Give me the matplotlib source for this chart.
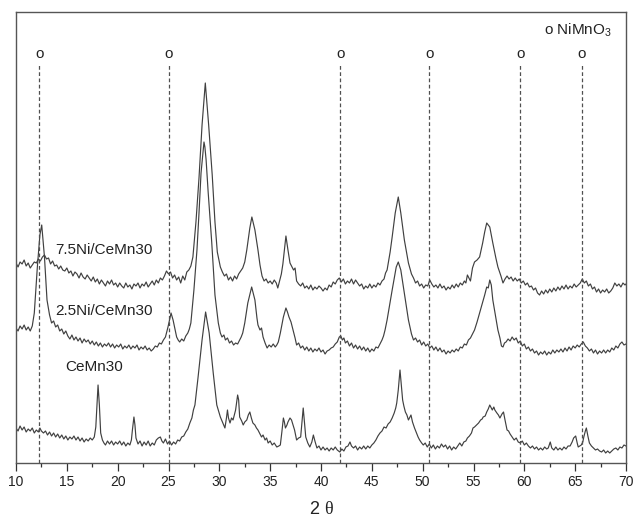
import matplotlib
matplotlib.use("Agg")
import matplotlib.pyplot as plt
import numpy as np

plt.rcParams['font.family'] = ['Liberation Sans', 'DejaVu Sans']
plt.rcParams['mathtext.fontset'] = 'custom'
plt.rcParams['mathtext.rm'] = 'Liberation Sans'
plt.rcParams['mathtext.it'] = 'Liberation Serif'

# readings: 2theta and signal level (frame units, top of frame = 463)
tt_75 = [10.0, 10.2, 10.4, 10.6, 10.8, 11.0, 11.2, 11.4, 11.6, 11.8, 12.0, 12.2, 12.4, 12.6, 12.8,
         13.0, 13.2, 13.4, 13.6, 13.8, 14.0, 14.2, 14.4, 14.6, 14.8, 15.0, 15.2, 15.4, 15.6, 15.8,
         16.0, 16.2, 16.4, 16.6, 16.8, 17.0, 17.2, 17.4, 17.6, 17.8, 18.0, 18.2, 18.4, 18.6, 18.8,
         19.0, 19.2, 19.4, 19.6, 19.8, 20.0, 20.2, 20.4, 20.6, 20.8, 21.0, 21.2, 21.4, 21.6, 21.8,
         22.0, 22.2, 22.4, 22.6, 22.8, 23.0, 23.2, 23.4, 23.6, 23.8, 24.0, 24.2, 24.4, 24.6, 24.8,
         25.0, 25.2, 25.4, 25.6, 25.8, 26.0, 26.2, 26.4, 26.6, 26.8, 27.0, 27.2, 27.4,
         27.7, 28.0, 28.3, 28.62, 28.95, 29.3, 29.57, 29.8, 30.1,
         30.3, 30.5, 30.7, 30.9, 31.1, 31.3, 31.5, 31.7, 31.9, 32.1, 32.3, 32.5, 32.7, 33.0, 33.2,
         33.5, 33.8, 34.0, 34.2, 34.4, 34.6, 34.8, 35.0, 35.2, 35.4, 35.6, 35.75, 35.9, 36.1, 36.25,
         36.4, 36.55, 36.75, 36.95, 37.1, 37.3, 37.45, 37.6, 37.8, 38.0, 38.2, 38.4, 38.6, 38.8, 39.0,
         39.2, 39.4, 39.6, 39.8, 40.0, 40.2, 40.4, 40.6, 40.8, 41.0, 41.2, 41.4, 41.6, 41.8, 42.0,
         42.2, 42.4, 42.6, 42.8, 43.0, 43.2, 43.4, 43.6, 43.8, 44.0, 44.2, 44.4, 44.6, 44.8, 45.0,
         45.2, 45.4, 45.6, 45.8, 46.0, 46.2, 46.35, 46.5, 46.8, 47.0, 47.3, 47.6, 47.85, 48.2, 48.6,
         48.9, 49.1, 49.3, 49.5, 49.7, 49.9, 50.1, 50.3, 50.5, 50.7, 50.9, 51.1, 51.3, 51.5, 51.7,
         51.9, 52.1, 52.3, 52.5, 52.7, 52.9, 53.1, 53.3, 53.5, 53.7, 53.9, 54.1, 54.25, 54.4, 54.55,
         54.7, 54.9, 55.1, 55.35, 55.6, 55.9, 56.1, 56.3, 56.45, 56.6, 56.9, 57.2, 57.4, 57.7, 57.9,
         58.1, 58.3, 58.5, 58.7, 58.9, 59.1, 59.3, 59.5, 59.7, 59.9, 60.1, 60.3, 60.5, 60.7, 60.9,
         61.1, 61.3, 61.5, 61.7, 61.9, 62.1, 62.3, 62.5, 62.7, 62.9, 63.1, 63.3, 63.5, 63.7, 63.9,
         64.1, 64.3, 64.5, 64.7, 64.9, 65.1, 65.3, 65.5, 65.7, 65.9, 66.1, 66.3, 66.5, 66.7, 66.9,
         67.1, 67.3, 67.5, 67.7, 67.9, 68.1, 68.3, 68.5, 68.7, 68.9, 69.1, 69.3, 69.5, 69.7, 69.9,
         70.0]
y_75 = [263, 267, 262, 264, 260, 266, 263, 268, 265, 262, 263, 259, 261, 257, 255,
        259, 258, 264, 261, 266, 265, 269, 266, 270, 271, 268, 273, 271, 276, 272,
        274, 278, 273, 277, 279, 275, 278, 281, 277, 282, 279, 284, 280, 283, 286,
        281, 284, 280, 285, 283, 287, 283, 286, 288, 283, 287, 285, 289, 284, 286,
        283, 288, 284, 286, 282, 287, 284, 281, 285, 280, 283, 278, 280, 276, 271,
        274, 272, 278, 275, 280, 277, 283, 276, 280, 272, 270, 266, 257,
        222, 178, 125, 83, 125, 175, 222, 252, 267,
        272, 276, 274, 280, 277, 281, 276, 279, 274, 271, 268, 262, 250, 228, 217,
        230, 250, 265, 276, 281, 279, 283, 281, 284, 280, 283, 288, 282, 274, 264,
        250, 236, 250, 263, 266, 270, 268, 281, 284, 286, 283, 288, 286, 289, 285,
        290, 287, 289, 286, 288, 291, 288, 290, 285, 287, 282, 284, 280, 278, 282,
        279, 284, 281, 283, 279, 284, 280, 283, 286, 284, 289, 286, 288, 284, 288,
        285, 287, 283, 285, 281, 279, 273, 270, 252, 237, 213, 197, 213, 240, 263,
        274, 278, 283, 281, 286, 284, 288, 285, 286, 280, 284, 287, 285, 288, 284,
        288, 286, 290, 287, 289, 285, 288, 284, 287, 283, 285, 281, 283, 275, 278,
        281, 268, 262, 260, 257, 243, 232, 223, 225, 227, 243, 258, 267, 276, 283,
        279, 276, 279, 277, 281, 278, 281, 279, 283, 281, 285, 283, 287, 286, 290,
        288, 293, 295, 291, 294, 290, 293, 289, 292, 288, 291, 287, 290, 286, 289,
        285, 289, 286, 288, 284, 287, 285, 283, 279, 283, 281, 286, 284, 289, 287,
        292, 289, 293, 290, 292, 289, 293, 291, 288, 283, 286, 284, 287, 283, 285,
        284]

tt_25 = [10.0, 10.2, 10.4, 10.6, 10.8, 11.0, 11.2, 11.4, 11.6, 11.8, 12.1, 12.35, 12.53, 12.8, 13.05,
         13.3, 13.5, 13.7, 13.9, 14.1, 14.3, 14.5, 14.7, 14.9, 15.1, 15.3, 15.5, 15.7, 15.9, 16.1,
         16.3, 16.5, 16.7, 16.9, 17.1, 17.3, 17.5, 17.7, 17.9, 18.1, 18.3, 18.5, 18.7, 18.9, 19.1,
         19.3, 19.5, 19.7, 19.9, 20.1, 20.3, 20.5, 20.7, 20.9, 21.1, 21.3, 21.5, 21.7, 21.9, 22.1,
         22.3, 22.5, 22.7, 22.9, 23.1, 23.3, 23.5, 23.7, 23.9, 24.1, 24.3, 24.5, 24.7, 24.95, 25.25,
         25.45, 25.65, 25.8, 25.95, 26.1, 26.3, 26.5, 26.7, 26.9, 27.05, 27.2, 27.5, 27.8, 28.0, 28.2,
         28.49, 28.58, 28.7, 28.9, 29.25, 29.57, 29.9, 30.1, 30.26, 30.45, 30.6, 30.8, 31.0, 31.2, 31.4,
         31.6, 31.8, 32.0, 32.15, 32.3, 32.5, 32.8, 33.18, 33.5, 33.7, 33.8, 34.0, 34.15, 34.3, 34.5,
         34.7, 34.9, 35.1, 35.3, 35.5, 35.65, 35.8, 36.0, 36.3, 36.55, 36.7, 36.85, 37.05, 37.25, 37.45,
         37.6, 37.8, 38.0, 38.2, 38.4, 38.6, 38.8, 39.0, 39.2, 39.4, 39.6, 39.8, 40.0, 40.2, 40.4,
         40.6, 40.8, 41.0, 41.2, 41.4, 41.6, 41.8, 41.95, 42.1, 42.25, 42.4, 42.6, 42.8, 43.0, 43.2,
         43.4, 43.6, 43.8, 44.0, 44.2, 44.4, 44.6, 44.8, 45.0, 45.2, 45.4, 45.6, 45.8, 46.0, 46.15,
         46.3, 46.5, 46.8, 47.0, 47.4, 47.6, 47.85, 48.2, 48.6, 48.9, 49.1, 49.3, 49.5, 49.7, 49.9,
         50.1, 50.3, 50.5, 50.7, 50.9, 51.1, 51.3, 51.5, 51.7, 51.9, 52.1, 52.3, 52.5, 52.7, 52.9,
         53.1, 53.3, 53.5, 53.7, 53.9, 54.1, 54.3, 54.5, 54.7, 54.9, 55.1, 55.35, 55.6, 55.9, 56.1,
         56.3, 56.45, 56.6, 56.75, 56.9, 57.2, 57.4, 57.6, 57.75, 57.9, 58.05, 58.2, 58.4, 58.6, 58.8,
         59.0, 59.2, 59.4, 59.6, 59.8, 60.0, 60.2, 60.4, 60.6, 60.8, 61.0, 61.2, 61.4, 61.6, 61.8,
         62.0, 62.2, 62.4, 62.6, 62.8, 63.0, 63.2, 63.4, 63.6, 63.8, 64.0, 64.2, 64.4, 64.6, 64.8,
         65.0, 65.2, 65.4, 65.6, 65.8, 66.0, 66.2, 66.4, 66.6, 66.8, 67.0, 67.2, 67.4, 67.6, 67.8,
         68.0, 68.2, 68.4, 68.6, 68.8, 69.0, 69.2, 69.4, 69.6, 69.8, 70.0]
y_25 = [328, 331, 326, 329, 325, 330, 327, 331, 326, 313, 267, 235, 225, 257, 300,
        315, 323, 321, 327, 325, 331, 329, 334, 331, 336, 339, 335, 340, 337, 341,
        338, 343, 339, 342, 340, 344, 341, 345, 342, 346, 343, 347, 344, 346, 343,
        347, 344, 348, 345, 347, 344, 349, 346, 348, 345, 349, 346, 348, 345, 350,
        347, 349, 346, 350, 348, 351, 349, 346, 347, 343, 344, 340, 337, 327, 313,
        320, 330, 337, 340, 342, 339, 341, 336, 333, 329, 323, 290, 250, 213, 173,
        142, 147, 160, 192, 242, 295, 323, 333, 337, 335, 340, 338, 343, 341, 345,
        343, 344, 340, 337, 333, 323, 303, 287, 300, 318, 325, 330, 328, 337, 343,
        348, 345, 347, 344, 347, 345, 342, 333, 317, 308, 312, 317, 322, 330, 338,
        345, 343, 348, 346, 350, 347, 351, 348, 352, 349, 351, 348, 352, 350, 354,
        351, 350, 348, 347, 344, 342, 337, 336, 340, 338, 343, 341, 346, 343, 348,
        345, 349, 346, 350, 347, 351, 348, 352, 349, 351, 347, 348, 344, 340, 336,
        330, 320, 302, 290, 267, 262, 270, 293, 320, 334, 340, 338, 342, 340, 345,
        342, 346, 344, 348, 346, 350, 347, 351, 348, 352, 350, 354, 351, 353, 350,
        352, 349, 351, 347, 348, 344, 345, 340, 338, 334, 330, 322, 313, 302, 295,
        287, 288, 280, 285, 300, 318, 330, 338, 346, 347, 343, 342, 339, 341, 337,
        340, 338, 343, 341, 346, 344, 349, 347, 351, 349, 353, 351, 355, 352, 354,
        351, 355, 352, 354, 350, 353, 350, 352, 349, 352, 348, 351, 347, 350, 346,
        348, 345, 347, 344, 342, 346, 348, 351, 349, 353, 350, 354, 351, 353, 350,
        353, 350, 352, 348, 350, 346, 348, 344, 342, 345, 344]

tt_ce = [10.0, 10.2, 10.4, 10.6, 10.8, 11.0, 11.2, 11.4, 11.6, 11.8, 12.0, 12.2, 12.35, 12.5, 12.7,
         12.9, 13.1, 13.3, 13.5, 13.7, 13.9, 14.1, 14.3, 14.5, 14.7, 14.9, 15.1, 15.3, 15.5, 15.7,
         15.9, 16.1, 16.3, 16.5, 16.7, 16.9, 17.1, 17.3, 17.5, 17.7, 17.85, 18.07, 18.2, 18.33, 18.5,
         18.65, 18.8, 19.0, 19.2, 19.4, 19.6, 19.8, 20.0, 20.2, 20.4, 20.6, 20.8, 21.0, 21.2, 21.35,
         21.45, 21.6, 21.7, 21.8, 22.0, 22.2, 22.4, 22.6, 22.8, 23.0, 23.2, 23.4, 23.6, 23.8, 24.0,
         24.2, 24.35, 24.5, 24.7, 24.9, 25.1, 25.3, 25.5, 25.7, 25.9, 26.1, 26.3, 26.5, 26.7, 26.9,
         27.1, 27.3, 27.45, 27.6, 27.9, 28.3, 28.65, 29.0, 29.4, 29.75, 29.95, 30.1, 30.3, 30.55, 30.7,
         30.8, 30.9, 31.05, 31.2, 31.35, 31.6, 31.8, 31.9, 32.0, 32.2, 32.35, 32.5, 32.7, 32.85, 33.0,
         33.15, 33.3, 33.5, 33.65, 33.8, 34.0, 34.15, 34.3, 34.5, 34.65, 34.8, 35.0, 35.2, 35.4, 35.65,
         35.85, 36.0, 36.15, 36.3, 36.4, 36.5, 36.65, 36.75, 36.95, 37.1, 37.25, 37.4, 37.6, 37.8, 38.0,
         38.15, 38.25, 38.35, 38.5, 38.7, 38.9, 39.1, 39.25, 39.4, 39.6, 39.8, 40.0, 40.2, 40.4, 40.6,
         40.8, 41.0, 41.2, 41.4, 41.6, 41.85, 42.05, 42.25, 42.45, 42.65, 42.85, 43.0, 43.2, 43.4, 43.6,
         43.8, 44.0, 44.2, 44.4, 44.6, 44.8, 45.0, 45.2, 45.4, 45.6, 45.8, 46.0, 46.2, 46.4, 46.6,
         46.8, 47.0, 47.2, 47.35, 47.45, 47.6, 47.77, 47.9, 48.03, 48.15, 48.3, 48.45, 48.6, 48.75, 48.85,
         49.0, 49.2, 49.4, 49.55, 49.7, 49.9, 50.06, 50.25, 50.45, 50.65, 50.85, 51.05, 51.25, 51.45, 51.65,
         51.85, 52.05, 52.25, 52.45, 52.65, 52.85, 53.05, 53.25, 53.45, 53.65, 53.85, 54.05, 54.25, 54.4, 54.6,
         54.8, 54.95, 55.1, 55.3, 55.5, 55.7, 55.85, 55.95, 56.15, 56.3, 56.45, 56.6, 56.75, 56.85, 57.0,
         57.1, 57.3, 57.45, 57.6, 57.8, 57.95, 58.1, 58.3, 58.45, 58.6, 58.8, 59.0, 59.2, 59.4, 59.6,
         59.8, 60.0, 60.2, 60.4, 60.6, 60.8, 61.0, 61.2, 61.4, 61.6, 61.8, 62.0, 62.2, 62.35, 62.55,
         62.7, 62.9, 63.1, 63.3, 63.5, 63.7, 63.9, 64.1, 64.3, 64.5, 64.7, 64.85, 65.05, 65.2, 65.3,
         65.45, 65.6, 65.75, 65.85, 66.0, 66.1, 66.25, 66.4, 66.6, 66.8, 67.0, 67.2, 67.4, 67.6, 67.8,
         68.0, 68.2, 68.4, 68.6, 68.8, 69.0, 69.2, 69.4, 69.6, 69.8, 70.0]
y_ce = [428, 431, 426, 430, 427, 432, 429, 431, 428, 433, 430, 432, 428, 431, 433,
        431, 435, 432, 436, 433, 437, 434, 438, 435, 439, 436, 440, 437, 439, 436,
        440, 437, 441, 438, 442, 439, 441, 438, 440, 437, 427, 385, 405, 433, 440,
        443, 445, 441, 444, 441, 445, 442, 444, 441, 445, 442, 446, 443, 445, 440,
        430, 417, 425, 438, 444, 441, 446, 442, 445, 441, 446, 443, 445, 440, 438,
        437, 441, 443, 439, 444, 441, 445, 442, 444, 440, 441, 437, 436, 432, 429,
        423, 418, 410, 405, 378, 340, 312, 333, 373, 405, 412, 417, 422, 428, 418,
        410, 418, 423, 418, 420, 410, 395, 400, 417, 421, 425, 422, 420, 415, 412,
        418, 423, 425, 428, 430, 434, 437, 435, 440, 438, 443, 441, 445, 443, 447,
        446, 445, 432, 418, 422, 428, 425, 422, 418, 420, 425, 430, 440, 438, 437,
        420, 408, 420, 437, 443, 447, 442, 435, 441, 448, 446, 450, 447, 450, 448,
        451, 448, 450, 447, 450, 452, 449, 451, 447, 446, 442, 446, 448, 446, 450,
        447, 449, 446, 449, 446, 448, 445, 443, 440, 436, 433, 431, 427, 428, 424,
        422, 418, 413, 408, 403, 390, 370, 385, 400, 406, 412, 415, 420, 417, 415,
        422, 428, 433, 437, 440, 443, 445, 443, 447, 444, 448, 445, 449, 446, 448,
        444, 447, 445, 449, 446, 450, 447, 449, 446, 443, 446, 442, 441, 438, 436,
        433, 428, 427, 425, 423, 420, 419, 417, 416, 412, 409, 405, 408, 410, 407,
        410, 413, 415, 418, 414, 412, 420, 430, 431, 434, 437, 440, 438, 442, 443,
        441, 445, 443, 446, 448, 446, 449, 447, 450, 448, 450, 447, 449, 448, 442,
        448, 450, 447, 450, 448, 450, 447, 449, 446, 446, 442, 438, 436, 443, 447,
        446, 445, 442, 437, 431, 428, 436, 443, 446, 448, 450, 449, 451, 452, 450,
        453, 451, 453, 451, 449, 448, 450, 447, 448, 445, 446]

nimno3_pos = [12.3, 25.05, 41.9, 50.65, 59.6, 65.65]

TOP = 463
traces = [(tt_75, y_75), (tt_25, y_25), (tt_ce, y_ce)]

fig = plt.figure(figsize=(6.36, 5.22), dpi=100)
ax = fig.add_axes([16 / 636, 59 / 522, 610 / 636, 451 / 522])

for tt, yy in traces:
    ax.plot(tt, TOP - np.array(yy), color='#404040', lw=0.85)

for p in nimno3_pos:
    ax.plot([p, p], [0, 400], color='#505050', lw=0.9, ls=(0, (3, 2)))
    ax.text(p, 409, 'o', ha='center', va='center', fontsize=11, color='#222222')

ax.text(68.6, 433, 'o NiMnO$_3$', ha='right', va='center', fontsize=11, color='#222222')
ax.text(13.84, 213, '7.5Ni/CeMn30', ha='left', va='center', fontsize=11, color='#222222')
ax.text(13.84, 152, '2.5Ni/CeMn30', ha='left', va='center', fontsize=11, color='#222222')
ax.text(14.8, 96, 'CeMn30', ha='left', va='center', fontsize=11, color='#222222')

ax.set_xlim(10, 70)
ax.set_ylim(0, 451)
ax.set_xticks(np.arange(10, 71, 5))
ax.set_xticks(np.arange(12.5, 70, 5), minor=True)
ax.tick_params(axis='x', which='major', direction='out', length=5.5, width=0.9,
               labelsize=10, colors='#333333', labelcolor='#222222')
ax.tick_params(axis='x', which='minor', direction='out', length=3, width=0.9, colors='#333333')
ax.set_yticks([])
for s in ax.spines.values():
    s.set_color('#555555')
    s.set_linewidth(1.0)
ax.set_xlabel('2 $\\theta$', fontsize=13, color='#222222', labelpad=8)

fig.savefig('out.png', dpi=100)
